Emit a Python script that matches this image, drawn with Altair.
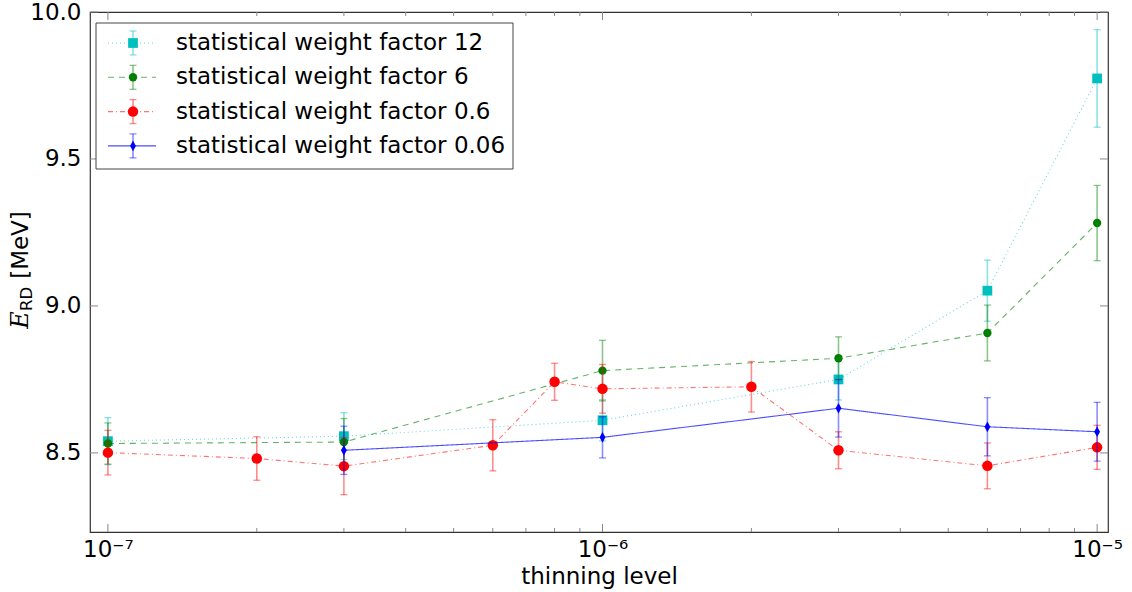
import altair as alt
import pandas as pd

# ---------------- data ----------------
series_names = [
    "statistical weight factor 12",
    "statistical weight factor 6",
    "statistical weight factor 0.6",
    "statistical weight factor 0.06",
]

x12 = [1e-7, 3e-7, 1e-6, 3e-6, 6e-6, 1e-5]
y12 = [8.540, 8.557, 8.611, 8.750, 9.052, 9.774]
e12 = [0.080, 0.080, 0.070, 0.070, 0.104, 0.166]

x6 = [1e-7, 3e-7, 1e-6, 3e-6, 6e-6, 1e-5]
y6 = [8.532, 8.537, 8.780, 8.822, 8.908, 9.282]
e6 = [0.070, 0.080, 0.103, 0.073, 0.095, 0.128]

x06 = [1e-7, 2e-7, 3e-7, 6e-7, 8e-7, 1e-6, 2e-6, 3e-6, 6e-6, 1e-5]
y06 = [8.501, 8.481, 8.455, 8.526, 8.742, 8.718, 8.725, 8.509, 8.456, 8.519]
e06 = [0.076, 0.074, 0.097, 0.087, 0.063, 0.083, 0.086, 0.063, 0.078, 0.075]

x006 = [3e-7, 1e-6, 3e-6, 6e-6, 1e-5]
y006 = [8.509, 8.553, 8.652, 8.589, 8.572]
e006 = [0.082, 0.070, 0.098, 0.099, 0.100]

x_major = [1e-7, 1e-6, 1e-5]
x_minor = [2e-7, 3e-7, 4e-7, 5e-7, 6e-7, 7e-7, 8e-7, 9e-7,
           2e-6, 3e-6, 4e-6, 5e-6, 6e-6, 7e-6, 8e-6, 9e-6]
y_major = [8.5, 9.0, 9.5, 10.0]

X_DOMAIN = [9.2e-8, 1.052e-5]
Y_DOMAIN = [8.231, 10.0]

W, H = 1018, 520
FONT = "DejaVu Sans"

styles = [
    # color, dash, line opacity, shape, size
    dict(color="#00bfbf", dash=[1, 3], op=0.6, shape="square", size=95),
    dict(color="#008000", dash=[6, 5], op=0.6, shape="circle", size=70),
    dict(color="#ff0000", dash=[5, 3, 1, 3], op=0.55, shape="circle", size=110),
    dict(color="#0000ff", dash=[1, 0], op=0.7, shape="M0,-1L0.55,0L0,1L-0.55,0Z", size=115),
]
all_data = [(x12, y12, e12), (x6, y6, e6), (x06, y06, e06), (x006, y006, e006)]

xs = alt.Scale(type="log", domain=X_DOMAIN, nice=False, zero=False)
ys = alt.Scale(domain=Y_DOMAIN, nice=False, zero=False)

layers = []

# ---------------- ticks (inward, matplotlib style) ----------------
tick_color = "#888888"
dmaj = pd.DataFrame({"x": x_major})
dmin = pd.DataFrame({"x": x_minor})
dy = pd.DataFrame({"y": y_major})
for df, ln in [(dmaj, 8), (dmin, 4)]:
    layers.append(alt.Chart(df).mark_rule(color=tick_color, strokeWidth=1).encode(
        x=alt.X("x:Q", scale=xs), y=alt.value(H), y2=alt.value(H - ln)))
    layers.append(alt.Chart(df).mark_rule(color=tick_color, strokeWidth=1).encode(
        x=alt.X("x:Q", scale=xs), y=alt.value(0), y2=alt.value(ln)))
layers.append(alt.Chart(dy).mark_rule(color=tick_color, strokeWidth=1).encode(
    y=alt.Y("y:Q", scale=ys), x=alt.value(0), x2=alt.value(8)))
layers.append(alt.Chart(dy).mark_rule(color=tick_color, strokeWidth=1).encode(
    y=alt.Y("y:Q", scale=ys), x=alt.value(W - 8), x2=alt.value(W)))

# ---------------- series ----------------
for name, st, (xv, yv, ev) in zip(series_names, styles, all_data):
    df = pd.DataFrame({"x": xv, "y": yv, "lo": [a - b for a, b in zip(yv, ev)],
                       "hi": [a + b for a, b in zip(yv, ev)]})
    base = alt.Chart(df)
    layers.append(base.mark_line(color=st["color"], strokeDash=st["dash"], strokeWidth=1.1,
                                 opacity=st["op"]).encode(
        x=alt.X("x:Q", scale=xs), y=alt.Y("y:Q", scale=ys), order="x:Q"))
    layers.append(base.mark_rule(color=st["color"], strokeWidth=1.6, opacity=0.45).encode(
        x=alt.X("x:Q", scale=xs), y=alt.Y("lo:Q", scale=ys), y2="hi:Q"))
    for f in ["lo", "hi"]:
        layers.append(base.mark_rule(color=st["color"], strokeWidth=1.3, opacity=0.45,
                                     xOffset=-3.5, x2Offset=3.5).encode(
            x=alt.X("x:Q", scale=xs), x2="x:Q", y=alt.Y(f + ":Q", scale=ys)))
    layers.append(base.mark_point(filled=True, color=st["color"], opacity=1,
                                  shape=st["shape"], size=st["size"]).encode(
        x=alt.X("x:Q", scale=xs), y=alt.Y("y:Q", scale=ys)))

# ---------------- legend (drawn by hand, matplotlib style) ----------------
one = pd.DataFrame({"d": [0]})
layers.append(alt.Chart(one).mark_rect(fill="white", stroke="#444444", strokeWidth=1).encode(
    x=alt.value(6), x2=alt.value(423), y=alt.value(11), y2=alt.value(157)))
for i, (name, st) in enumerate(zip(series_names, styles)):
    ry = 31 + i * 34.3
    layers.append(alt.Chart(one).mark_rule(color=st["color"], strokeDash=st["dash"],
                                           strokeWidth=1.1, opacity=st["op"]).encode(
        x=alt.value(18), x2=alt.value(66), y=alt.value(ry)))
    layers.append(alt.Chart(one).mark_rule(color=st["color"], strokeWidth=1.6, opacity=0.45).encode(
        x=alt.value(43), y=alt.value(ry - 12), y2=alt.value(ry + 12)))
    for dyc in (-12, 12):
        layers.append(alt.Chart(one).mark_rule(color=st["color"], strokeWidth=1.3, opacity=0.45).encode(
            x=alt.value(39.5), x2=alt.value(46.5), y=alt.value(ry + dyc)))
    layers.append(alt.Chart(one).mark_point(filled=True, color=st["color"], opacity=1,
                                            shape=st["shape"], size=st["size"]).encode(
        x=alt.value(43), y=alt.value(ry)))
    layers.append(alt.Chart(pd.DataFrame({"t": [name]})).mark_text(
        align="left", baseline="middle", font=FONT, fontSize=23, color="black").encode(
        x=alt.value(86), y=alt.value(ry), text="t:N"))

# ---------------- y axis title E_RD [MeV] ----------------
layers.append(alt.Chart(pd.DataFrame({"t": ["E"]})).mark_text(
    angle=270, align="center", baseline="middle", font="DejaVu Serif", fontStyle="italic",
    fontSize=24, color="black").encode(x=alt.value(-69.5), y=alt.value(308), text="t:N"))
layers.append(alt.Chart(pd.DataFrame({"t": ["RD"]})).mark_text(
    angle=270, align="center", baseline="middle", font=FONT,
    fontSize=16.5, color="black").encode(x=alt.value(-63), y=alt.value(287), text="t:N"))
layers.append(alt.Chart(pd.DataFrame({"t": ["[MeV]"]})).mark_text(
    angle=270, align="center", baseline="middle", font=FONT,
    fontSize=23, color="black").encode(x=alt.value(-69), y=alt.value(233), text="t:N"))

# ---------------- axes (labels only) ----------------
axis_layer = alt.Chart(pd.DataFrame({"x": X_DOMAIN, "y": Y_DOMAIN})).mark_point(opacity=0).encode(
    x=alt.X("x:Q", scale=xs, axis=alt.Axis(
        values=x_major, title="thinning level", ticks=False, tickSize=0, domain=False, grid=False,
        labelExpr="datum.value < 3e-7 ? '10⁻⁷' : (datum.value < 3e-6 ? '10⁻⁶' : '10⁻⁵')",
        labelFontSize=23, labelFont=FONT, labelColor="black", labelPadding=6,
        titleFontSize=23, titleFont=FONT, titleFontWeight="normal", titleColor="black",
        titlePadding=4, labelFlush=False, labelOverlap=False)),
    y=alt.Y("y:Q", scale=ys, axis=alt.Axis(
        values=y_major, format=".1f", title=None, ticks=False, tickSize=0, domain=False, grid=False,
        labelFontSize=23, labelFont=FONT, labelColor="black", labelPadding=9,
        labelFlush=False, labelOverlap=False)),
)

chart = alt.layer(axis_layer, *layers).properties(
    width=W, height=H,
    autosize=alt.AutoSizeParams(type="none"),
    padding={"left": 90, "top": 12, "right": 24, "bottom": 60},
    background="white",
).configure_view(stroke="#333333", strokeWidth=1.2)

chart.save("out.html", embed_options={"renderer": "svg", "actions": False})
